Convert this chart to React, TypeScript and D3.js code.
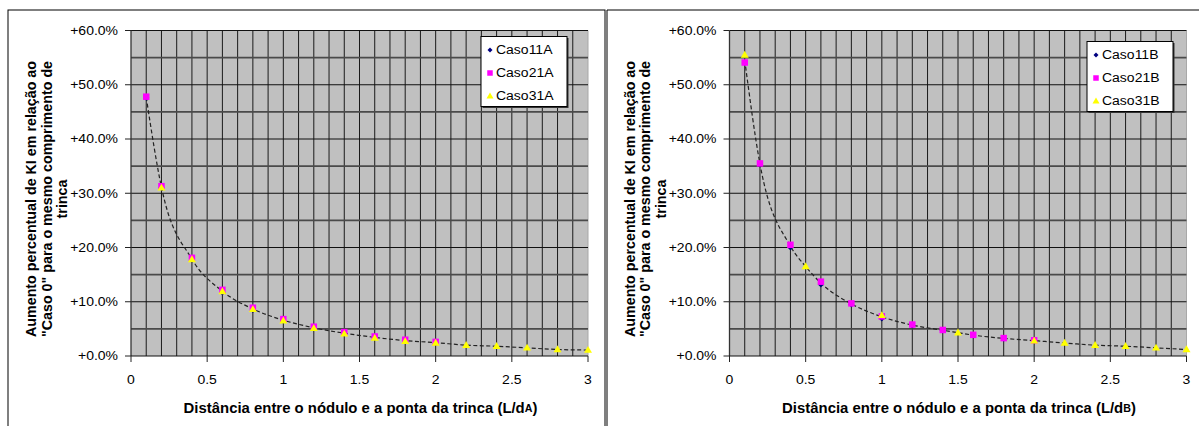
import React from 'react';
import * as d3 from 'd3';

// ---------- data (values in %) ----------
const xA1 = [0.1, 0.2, 0.4, 0.6, 0.8, 1.0, 1.2, 1.4, 1.6, 1.8, 2.0];
const caso11A = [47.6, 31.0, 17.7, 11.7, 8.5, 6.5, 5.1, 4.1, 3.4, 2.8, 2.4];
const caso21A = [47.8, 31.3, 18.1, 12.2, 8.9, 6.8, 5.4, 4.4, 3.6, 3.0, 2.6];
const xA3 = [0.2, 0.4, 0.6, 0.8, 1.0, 1.2, 1.4, 1.6, 1.8, 2.0, 2.2, 2.4, 2.6, 2.8, 3.0];
const caso31A = [31.0, 17.8, 11.9, 8.6, 6.5, 5.1, 4.1, 3.3, 2.7, 2.4, 2.0, 1.8, 1.5, 1.2, 1.1];

const xB1 = [0.1, 0.2, 0.4, 0.6, 0.8, 1.0, 1.2, 1.4, 1.6, 1.8, 2.0];
const caso11B = [54.0, 35.3, 20.0, 13.2, 9.5, 6.9, 5.6, 4.7, 3.8, 3.2, 2.8];
const caso21B = [54.1, 35.5, 20.5, 13.7, 9.7, 7.3, 5.8, 4.8, 3.9, 3.3, 2.9];
const xB3 = [0.1, 0.5, 1.0, 1.5, 2.0, 2.2, 2.4, 2.6, 2.8, 3.0];
const caso31B = [55.5, 16.5, 7.5, 4.3, 2.8, 2.4, 2.0, 1.8, 1.5, 1.2];

const yTickValues = [0, 10, 20, 30, 40, 50, 60];
const yTickLabels = ['+0.0%', '+10.0%', '+20.0%', '+30.0%', '+40.0%', '+50.0%', '+60.0%'];
const xTickValues = [0, 0.5, 1, 1.5, 2, 2.5, 3];
const xTickLabels = ['0', '0.5', '1', '1.5', '2', '2.5', '3'];
const yTitleLines = [
  'Aumento percentual de KI em relação ao',
  '"Caso 0" para o mesmo comprimento de',
  'trinca',
];
const xTitleMain = 'Distância entre o nódulo e a ponta da trinca (L/d';
const namesA = ['Caso11A', 'Caso21A', 'Caso31A'];
const namesB = ['Caso11B', 'Caso21B', 'Caso31B'];

type Shape = 'diamond' | 'square' | 'triangle';
interface Series { name: string; xs: number[]; ys: number[]; shape: Shape; color: string }

const FONT = '"Liberation Sans", Arial, sans-serif';

function markerPath(shape: Shape, s: number): string {
  const h = s / 2;
  if (shape === 'diamond') return `M0,${-h}L${h},0L0,${h}L${-h},0Z`;
  if (shape === 'square') return `M${-h},${-h}H${h}V${h}H${-h}Z`;
  const th = s * 0.86;
  return `M0,${-th * 0.6}L${h},${th * 0.4}L${-h},${th * 0.4}Z`;
}
const markerSize: Record<Shape, number> = { diamond: 6, square: 6.5, triangle: 8 };

function Chart({ dx, series, sub, legend }: { dx: number; series: Series[]; sub: string; legend: { x: number; y: number } }) {
  const x = d3.scaleLinear().domain([0, 3]).range([131 + dx, 588 + dx]);
  const y = d3.scaleLinear().domain([0, 60]).range([356, 30.5]);

  const vGrid = d3.range(1, 30).map((i) => i / 10);
  const hGrid = d3.range(1, 13).map((i) => i * 5);

  // trend: mean of series at each x
  const m = new Map<number, number[]>();
  series.forEach((s) => s.xs.forEach((xv, i) => {
    const k = Math.round(xv * 10) / 10;
    if (!m.has(k)) m.set(k, []);
    m.get(k)!.push(s.ys[i]);
  }));
  const trend = Array.from(m.entries()).map(([k, v]) => [k, d3.mean(v)!] as [number, number]).sort((a, b) => a[0] - b[0]);
  const line = d3.line<[number, number]>().x((d) => x(d[0])).y((d) => y(d[1])).curve(d3.curveMonotoneX);

  const tickFont = { fontFamily: FONT, fontSize: 12.5 };

  return (
    <g>
      <rect x={x(0)} y={y(60)} width={x(3) - x(0)} height={y(0) - y(60)} fill="#C0C0C0" />
      {vGrid.map((v) => (
        <line key={'v' + v} x1={x(v)} x2={x(v)} y1={y(60)} y2={y(0)} stroke="#1a1a1a" strokeWidth={1} />
      ))}
      <line x1={x(3)} x2={x(3)} y1={y(60)} y2={y(0)} stroke="#a8a8a8" strokeWidth={1} />
      {hGrid.map((v) => (
        <line key={'h' + v} x1={x(0)} x2={x(3)} y1={y(v)} y2={y(v)}
          stroke={v % 10 === 0 ? '#111' : '#4a4a4a'} strokeWidth={v % 10 === 0 ? 1 : 1.6} />
      ))}
      {/* axes */}
      <line x1={x(0)} x2={x(0)} y1={y(60)} y2={y(0)} stroke="#333" strokeWidth={1.3} />
      <line x1={x(0)} x2={x(3)} y1={y(0)} y2={y(0)} stroke="#111" strokeWidth={1.2} />
      {yTickValues.map((v, i) => (
        <g key={'yt' + v}>
          <line x1={x(0) - 6} x2={x(0)} y1={y(v)} y2={y(v)} stroke="#222" strokeWidth={1} />
          <text transform={`translate(${x(0) - 13},${y(v)}) scale(1.12,1.05)`} textAnchor="end" dominantBaseline="central" {...tickFont}>{yTickLabels[i]}</text>
        </g>
      ))}
      {xTickValues.map((v, i) => (
        <g key={'xt' + v}>
          <line x1={x(v)} x2={x(v)} y1={y(0)} y2={y(0) + 6} stroke="#222" strokeWidth={1} />
          <text transform={`translate(${x(v)},${380}) scale(1.12,1.05)`} textAnchor="middle" dominantBaseline="central" {...tickFont}>{xTickLabels[i]}</text>
        </g>
      ))}
      {/* trend line */}
      <path d={line(trend) || ''} fill="none" stroke="#222" strokeWidth={1.2} strokeDasharray="4 2.5" />
      {/* markers */}
      {series.map((s) => s.xs.map((xv, i) => (
        <path key={s.name + i} transform={`translate(${x(xv)},${y(s.ys[i])})`} d={markerPath(s.shape, markerSize[s.shape])} fill={s.color} />
      )))}
      {/* axis titles */}
      <text transform={`translate(${x(1.5) + 1},408) scale(1.065,1.05)`} textAnchor="middle" dominantBaseline="central" fontFamily={FONT} fontWeight="bold" fontSize={14}>
        {xTitleMain}<tspan fontSize={10}>{sub}</tspan>)
      </text>
      {yTitleLines.map((t, i) => (
        <text key={'yl' + i} transform={`translate(${31 + dx + i * 15.5},199) rotate(-90) scale(1.02,1.1)`} textAnchor="middle" dominantBaseline="central"
          fontFamily={FONT} fontWeight="bold" fontSize={14}>{t}</text>
      ))}
      {/* legend */}
      <rect x={legend.x + 1.5} y={legend.y + 1.5} width={86} height={70} fill="#333" />
      <rect x={legend.x} y={legend.y} width={86} height={70} fill="#fff" stroke="#000" strokeWidth={1} />
      {series.map((s, i) => (
        <g key={'lg' + s.name}>
          <path transform={`translate(${legend.x + 9},${legend.y + 13.5 + i * 23})`} d={markerPath(s.shape, markerSize[s.shape] - 1)} fill={s.color} />
          <text transform={`translate(${legend.x + 15},${legend.y + 13.5 + i * 23}) scale(1.12,1.05)`} dominantBaseline="central" {...tickFont}>{s.name}</text>
        </g>
      ))}
    </g>
  );
}

export default function App() {
  const seriesA: Series[] = [
    { name: namesA[0], xs: xA1, ys: caso11A, shape: 'diamond', color: '#000080' },
    { name: namesA[1], xs: xA1, ys: caso21A, shape: 'square', color: '#FF00FF' },
    { name: namesA[2], xs: xA3, ys: caso31A, shape: 'triangle', color: '#FFFF00' },
  ];
  const seriesB: Series[] = [
    { name: namesB[0], xs: xB1, ys: caso11B, shape: 'diamond', color: '#000080' },
    { name: namesB[1], xs: xB1, ys: caso21B, shape: 'square', color: '#FF00FF' },
    { name: namesB[2], xs: xB3, ys: caso31B, shape: 'triangle', color: '#FFFF00' },
  ];
  return (
    <svg width={1199} height={426} style={{ position: 'absolute', left: 0, top: 0, background: '#fff' }}>
      <rect x={0} y={0} width={1199} height={426} fill="#fff" />
      <rect x={8} y={10} width={597} height={440} fill="none" stroke="#000" strokeWidth={1} />
      <path d="M607,450V10H1200" fill="none" stroke="#000" strokeWidth={1} />
      <Chart dx={0} series={seriesA} sub="A" legend={{ x: 481, y: 36.5 }} />
      <Chart dx={598.5} series={seriesB} sub="B" legend={{ x: 1087, y: 41.5 }} />
    </svg>
  );
}
